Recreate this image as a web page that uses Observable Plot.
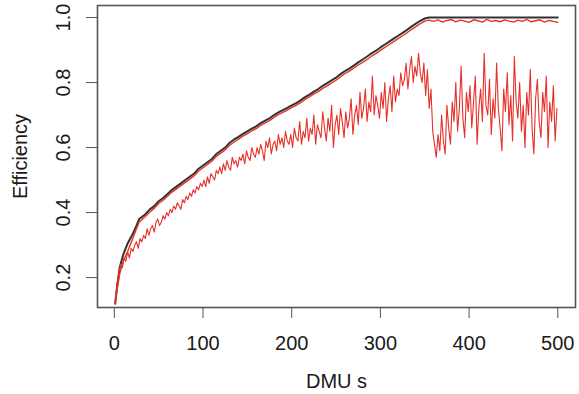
<!DOCTYPE html>
<html><head><meta charset="utf-8">
<script src="https://cdn.jsdelivr.net/npm/d3@7"></script>
<script src="https://cdn.jsdelivr.net/npm/@observablehq/plot@0.6"></script>
<style>html,body{margin:0;padding:0;background:#fff;}</style>
</head><body><div id="chart"></div>
<script>
const xTicks = [0, 100, 200, 300, 400, 500];
const yTicks = [0.2, 0.4, 0.6, 0.8, 1.0];
const xTitle = "DMU s";
const yTitle = "Efficiency";

// upper (black) efficiency frontier
const upperDMU = [1,3,6,10,15,20,25,28,35,40,45,50,55,60,65,70,75,80,85,90,95,100,105,110,115,120,125,130,135,140,145,150,155,160,165,170,175,180,185,190,195,200,205,210,215,220,225,230,235,240,245,250,255,260,265,270,275,280,285,290,295,300,305,310,315,320,325,330,335,340,345,350,355,500];
const upperEff = [0.12,0.17,0.23,0.27,0.305,0.33,0.36,0.38,0.395,0.41,0.42,0.435,0.445,0.457,0.47,0.48,0.49,0.50,0.51,0.52,0.535,0.545,0.555,0.565,0.58,0.59,0.60,0.615,0.625,0.633,0.642,0.65,0.658,0.665,0.675,0.683,0.69,0.70,0.708,0.715,0.722,0.73,0.737,0.745,0.755,0.763,0.772,0.78,0.79,0.798,0.807,0.815,0.826,0.835,0.843,0.852,0.862,0.871,0.88,0.89,0.898,0.908,0.917,0.926,0.935,0.944,0.953,0.962,0.972,0.981,0.99,0.997,1.0,1.0];

// red series close to the frontier
const closeDMU = [1,3,6,10,15,20,25,28,35,40,45,50,55,60,65,70,75,80,85,90,95,100,105,110,115,120,125,130,135,140,145,150,155,160,165,170,175,180,185,190,195,200,205,210,215,220,225,230,235,240,245,250,255,260,265,270,275,280,285,290,295,300,305,310,315,320,325,330,335,340,345,350,355,360,365,370,375,380,385,390,395,400,405,410,415,420,425,430,435,440,445,450,455,460,465,470,475,480,485,490,495,500];
const closeEff = [0.12,0.16,0.21,0.25,0.28,0.315,0.35,0.37,0.388,0.402,0.413,0.428,0.438,0.45,0.463,0.473,0.483,0.493,0.503,0.513,0.528,0.538,0.548,0.558,0.573,0.583,0.593,0.607,0.617,0.626,0.635,0.643,0.651,0.658,0.668,0.676,0.683,0.693,0.701,0.708,0.715,0.723,0.73,0.738,0.748,0.756,0.765,0.772,0.782,0.79,0.799,0.807,0.818,0.827,0.835,0.844,0.854,0.862,0.871,0.881,0.889,0.899,0.908,0.917,0.926,0.935,0.944,0.953,0.963,0.972,0.981,0.989,0.992,0.988,0.993,0.986,0.991,0.994,0.987,0.992,0.989,0.985,0.993,0.990,0.986,0.994,0.988,0.991,0.987,0.993,0.989,0.986,0.992,0.988,0.994,0.987,0.990,0.993,0.986,0.991,0.988,0.985];

// noisy red series, DMU 1,3,5,...,499
const noisyDMU = d3.range(1, 500, 2);
const noisyEff = [
0.12,0.18,0.21,0.24,0.23,0.26,0.25,0.28,0.26,0.29,
0.28,0.30,0.31,0.29,0.32,0.31,0.33,0.32,0.35,0.33,
0.35,0.36,0.34,0.37,0.38,0.36,0.37,0.39,0.38,0.40,
0.39,0.41,0.40,0.42,0.41,0.43,0.42,0.41,0.44,0.43,
0.45,0.44,0.46,0.45,0.47,0.46,0.48,0.47,0.49,0.48,
0.50,0.48,0.51,0.49,0.52,0.51,0.50,0.53,0.52,0.54,
0.52,0.55,0.53,0.56,0.54,0.53,0.57,0.55,0.56,0.54,
0.57,0.56,0.58,0.55,0.59,0.57,0.56,0.60,0.58,0.57,
0.60,0.58,0.61,0.59,0.56,0.62,0.60,0.63,0.58,0.61,
0.62,0.59,0.64,0.61,0.63,0.60,0.65,0.62,0.61,0.64,
0.60,0.66,0.63,0.62,0.68,0.61,0.65,0.63,0.69,0.62,
0.66,0.64,0.70,0.61,0.67,0.65,0.63,0.71,0.66,0.62,
0.69,0.65,0.73,0.60,0.67,0.70,0.64,0.72,0.68,0.63,
0.71,0.66,0.69,0.75,0.64,0.70,0.73,0.67,0.77,0.69,
0.72,0.78,0.68,0.74,0.71,0.82,0.70,0.76,0.73,0.69,
0.77,0.72,0.80,0.68,0.75,0.79,0.71,0.82,0.74,0.78,
0.76,0.83,0.79,0.81,0.86,0.78,0.84,0.88,0.80,0.85,
0.82,0.89,0.83,0.80,0.86,0.76,0.84,0.72,0.78,0.65,
0.61,0.57,0.64,0.59,0.70,0.62,0.58,0.73,0.66,0.61,
0.74,0.68,0.80,0.65,0.72,0.85,0.69,0.63,0.77,0.71,
0.79,0.66,0.74,0.82,0.61,0.72,0.78,0.68,0.89,0.73,
0.70,0.81,0.64,0.75,0.69,0.86,0.72,0.66,0.59,0.78,
0.71,0.83,0.67,0.76,0.62,0.88,0.74,0.69,0.80,0.65,
0.73,0.60,0.77,0.70,0.84,0.66,0.58,0.75,0.81,0.68,
0.63,0.77,0.71,0.82,0.60,0.74,0.68,0.79,0.62,0.72];

const upper = upperDMU.map((x, i) => ({x, y: upperEff[i]}));
const close = closeDMU.map((x, i) => ({x, y: closeEff[i]}));
const noisy = noisyDMU.map((x, i) => ({x, y: noisyEff[i]}));

const font = "'Liberation Sans', Arial, Helvetica, sans-serif";
const chart = Plot.plot({
  width: 579, height: 394,
  marginLeft: 97, marginRight: 4, marginTop: 5, marginBottom: 87,
  style: {fontFamily: font, fontSize: "20px", background: "#fff", color: "#1a1a1a"},
  x: {domain: [-18.96, 519.96], axis: null},
  y: {domain: [0.108, 1.037], axis: null},
  marks: [
    Plot.line(upper, {x: "x", y: "y", stroke: "#333", strokeWidth: 2}),
    Plot.line(close, {x: "x", y: "y", stroke: "#e8302a", strokeWidth: 1.4}),
    Plot.line(noisy, {x: "x", y: "y", stroke: "#e8302a", strokeWidth: 1.1}),
    Plot.frame({stroke: "#555", strokeWidth: 1.6}),
    Plot.axisX({ticks: xTicks, tickSize: 11, tickPadding: 17, tickFormat: d => String(d), label: null, stroke: "#555", fontSize: 20, fill: "#1a1a1a"}),
    Plot.axisY({ticks: yTicks, tickSize: 11, tickFormat: () => "", label: null, stroke: "#555"}),
    Plot.text(yTicks, {y: d => d, text: d => d.toFixed(1), frameAnchor: "left", dx: -34, rotate: -90, textAnchor: "middle", lineAnchor: "middle", fontSize: 20, fill: "#1a1a1a"}),
    Plot.text([yTitle], {text: d => d, frameAnchor: "left", dx: -77, rotate: -90, textAnchor: "middle", lineAnchor: "middle", fontSize: 20, fill: "#1a1a1a"}),
    Plot.text([xTitle], {text: d => d, frameAnchor: "bottom", dy: 74, textAnchor: "middle", lineAnchor: "middle", fontSize: 20, fill: "#1a1a1a"})
  ]
});
document.getElementById("chart").appendChild(chart);
</script>
</body></html>
